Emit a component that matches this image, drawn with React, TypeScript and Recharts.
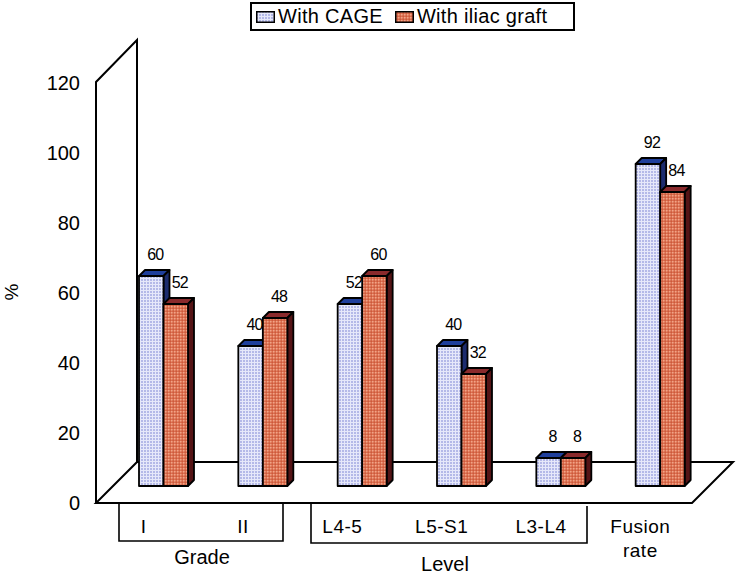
import React from "react";
import { BarChart, Bar, XAxis, YAxis, Legend, LabelList, Customized } from "recharts";

const categories = ["I", "II", "L4-5", "L5-S1", "L3-L4", "Fusion rate"];
const cageValues = [60, 40, 52, 40, 8, 92];
const iliacValues = [52, 48, 60, 32, 8, 84];
const yTicks = [0, 20, 40, 60, 80, 100, 120];
const seriesNames = ["With CAGE", "With iliac graft"];
const groupLabels = ["Grade", "Level"];

const data = categories.map((name, i) => ({ name, cage: cageValues[i], iliac: iliacValues[i] }));

const FONT = "'Liberation Sans', Arial, sans-serif";
const DEPTH = 6;
const FLOOR_SHIFT = 17;

const Patterns = () => (
  <defs>
    <pattern id="cageFill" width="3" height="3" patternUnits="userSpaceOnUse">
      <rect width="3" height="3" fill="#e6e8fa" />
      <rect width="2" height="2" fill="#bcc1ec" />
      <rect x="0.5" y="0.5" width="1" height="1" fill="#9ea4de" />
    </pattern>
    <pattern id="iliacFill" width="3" height="3" patternUnits="userSpaceOnUse">
      <rect width="3" height="3" fill="#dc6f50" />
      <rect width="1.5" height="1.5" fill="#f0a488" />
      <rect x="1.5" y="1.5" width="1.5" height="1.5" fill="#cc5a3c" />
    </pattern>
  </defs>
);

const makeBox = (fill: string, top: string, side: string) => (p: any) => {
  const { x, y, width, height } = p;
  const d = DEPTH;
  return (
    <g stroke="#000" strokeWidth={1.8} strokeLinejoin="round">
      <path d={`M${x} ${y} l${d} ${-d} h${width} l${-d} ${d} Z`} fill={top} />
      <path d={`M${x + width} ${y} l${d} ${-d} v${height} l${-d} ${d} Z`} fill={side} />
      <rect x={x} y={y} width={width} height={height} fill={fill} />
    </g>
  );
};

const CageBox = makeBox("url(#cageFill)", "#1f3f9c", "#1c2c6e");
const IliacBox = makeBox("url(#iliacFill)", "#8a2a2c", "#551416");

const ValueLabel = (p: any) => (
  <text
    x={p.x + p.width / 2 + 4}
    y={p.y - 16}
    textAnchor="middle"
    fontFamily={FONT}
    fontSize={16}
    letterSpacing={-0.8}
    fill="#000"
  >
    {p.value}
  </text>
);

const YTick = (p: any) => (
  <text x={80} y={p.y + FLOOR_SHIFT + 7} textAnchor="end" fontFamily={FONT} fontSize={20} fill="#000">
    {p.payload.value}
  </text>
);

const XTick = (p: any) => {
  const words = String(p.payload.value).split(" ");
  return (
    <text textAnchor="middle" fontFamily={FONT} fontSize={19} fill="#000" letterSpacing={0.5}>
      {words.map((w, i) => (
        <tspan key={w} x={p.x - FLOOR_SHIFT - 3} y={532.5 + i * 24}>
          {w}
        </tspan>
      ))}
    </text>
  );
};

const Frame = () => (
  <g>
    <g fill="none" stroke="#000" strokeWidth={2}>
      <path d="M96 503 V82 L137 40 V462 L96 503 H692 L733 462 H137" />
      <path d="M119 504 V541 H283 V504" strokeWidth={1.6} />
      <path d="M311 504 V543 H587 V506" strokeWidth={1.6} />
    </g>
    <text x={202} y={564} textAnchor="middle" fontFamily={FONT} fontSize={20} fill="#000">
      {groupLabels[0]}
    </text>
    <text x={445} y={570.5} textAnchor="middle" fontFamily={FONT} fontSize={20} fill="#000">
      {groupLabels[1]}
    </text>
    <text
      transform="translate(18 292) rotate(-90)"
      textAnchor="middle"
      fontFamily={FONT}
      fontSize={19}
      fill="#000"
    >
      %
    </text>
  </g>
);

const Swatch = ({ fill }: { fill: string }) => (
  <svg width={19} height={12} style={{ display: "block", flex: "none" }}>
    <rect x={0.75} y={0.75} width={17.5} height={10.5} fill={fill} stroke="#000" strokeWidth={1.5} />
  </svg>
);

const LegendBox = () => (
  <div
    style={{
      boxSizing: "border-box",
      width: 325,
      height: 29,
      border: "2px solid #000",
      display: "flex",
      alignItems: "center",
      paddingLeft: 4,
      fontFamily: FONT,
      fontSize: 20,
      color: "#000",
      background: "#fff",
      whiteSpace: "nowrap",
    }}
  >
    <Swatch fill="url(#cageFill)" />
    <span style={{ marginLeft: 3, marginRight: 12, letterSpacing: 0.3 }}>{seriesNames[0]}</span>
    <Swatch fill="url(#iliacFill)" />
    <span style={{ marginLeft: 3, letterSpacing: 0.3 }}>{seriesNames[1]}</span>
  </div>
);

export default function App() {
  return (
    <div style={{ position: "absolute", left: 0, top: 0, width: 738, height: 574 }}>
      <svg width={0} height={0} style={{ position: "absolute" }}>
        <Patterns />
      </svg>
      <BarChart
        width={738}
        height={574}
        data={data}
        margin={{ top: 37, right: 28, bottom: 0, left: 54 }}
        barGap={0}
        barSize={24.5}
      >
        <Customized component={Frame} />
        <XAxis
          dataKey="name"
          height={88}
          interval={0}
          axisLine={false}
          tickLine={false}
          tick={XTick}
        />
        <YAxis
          width={60}
          domain={[0, 120]}
          ticks={yTicks}
          axisLine={false}
          tickLine={false}
          tick={YTick}
        />
        <Legend
          verticalAlign="top"
          content={LegendBox}
          wrapperStyle={{ left: 250, top: 2, width: 325, height: 29 }}
        />
        <Bar dataKey="cage" name={seriesNames[0]} shape={CageBox} isAnimationActive={false}>
          <LabelList dataKey="cage" content={ValueLabel} />
        </Bar>
        <Bar dataKey="iliac" name={seriesNames[1]} shape={IliacBox} isAnimationActive={false}>
          <LabelList dataKey="iliac" content={ValueLabel} />
        </Bar>
      </BarChart>
    </div>
  );
}
